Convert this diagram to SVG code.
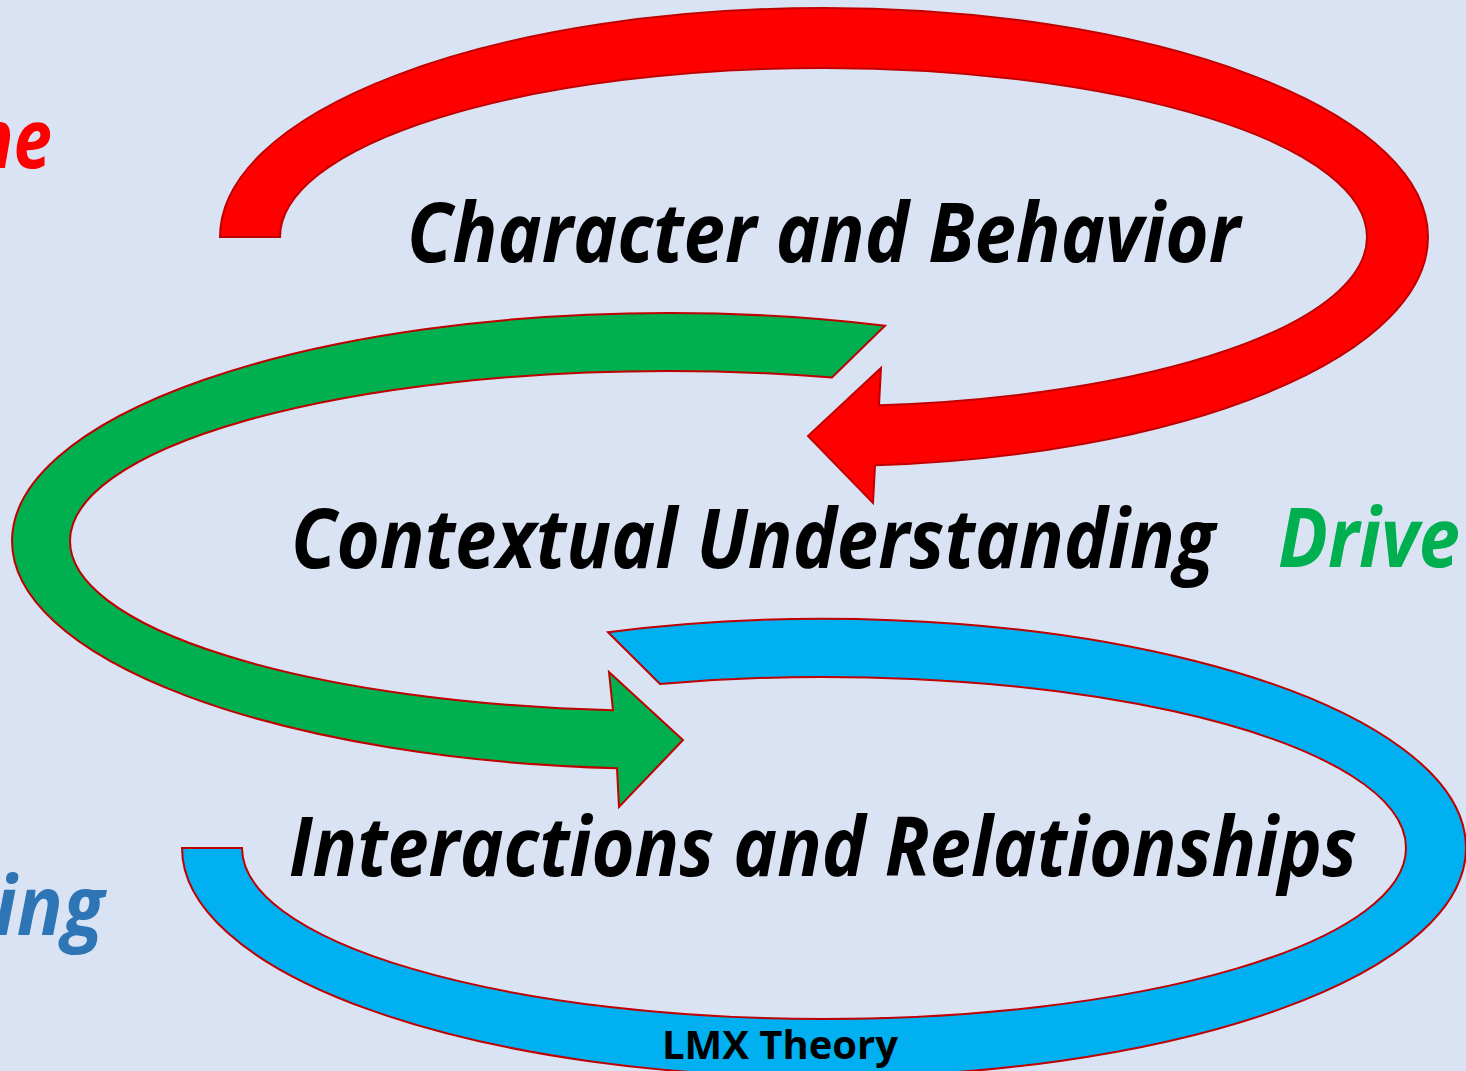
<svg xmlns="http://www.w3.org/2000/svg" width="1466" height="1071" viewBox="0 0 1466 1071">
  <style>
    .band { stroke: #C00000; stroke-width: 2; stroke-linejoin: miter; }
    .main { font-family: "Open Sans", "Noto Sans", sans-serif; font-weight: bold; font-style: italic; font-size: 82px; fill: #000000; }
    .side { font-family: "Open Sans", "Noto Sans", sans-serif; font-weight: bold; font-style: italic; font-size: 82px; }
    .lmx { font-family: "Open Sans", "Noto Sans", sans-serif; font-weight: bold; font-size: 39px; fill: #000000; }
  </style>
  <rect x="0" y="0" width="1466" height="1071" fill="#DAE3F3"/>

  <g id="connectors">
    <path id="arrow-red" class="band" fill="#FF0000"
      d="M 220 237 A 604 229 0 0 1 824 8 A 604 229 0 0 1 1428 237 A 604 229 0 0 1 875 465.2 L 873 503 L 808 436 L 881 368 L 879 405.3 A 544 169 0 0 0 1367 237 A 544 169 0 0 0 824 68 A 544 169 0 0 0 280 237 Z"/>
    <path id="arrow-green" class="band" fill="#00B050"
      d="M 885 325.7 A 656 228 0 0 0 668 313 A 656 228 0 0 0 12 541 A 656 228 0 0 0 617 768.3 L 619 807 L 683 740 L 609 672 L 613 710.3 A 598 170 0 0 1 70 541 A 598 170 0 0 1 668 371 A 598 170 0 0 1 832 377.5 Z"/>
    <path id="arrow-blue" class="band" fill="#00B0F0"
      d="M 608 632.2 A 642 229 0 0 1 1466 848 A 642 229 0 0 1 824 1077 A 642 229 0 0 1 182 848 L 242 848 A 582 171 0 0 0 824 1019 A 582 171 0 0 0 1406 848 A 582 171 0 0 0 660 683.9 Z"/>
  </g>

  <g id="node-character">
    <text class="main" x="407" y="262" textLength="833" lengthAdjust="spacingAndGlyphs">Character and Behavior</text>
  </g>
  <g id="node-contextual">
    <text class="main" x="291" y="568" textLength="924" lengthAdjust="spacingAndGlyphs">Contextual Understanding</text>
  </g>
  <g id="node-interactions">
    <text class="main" x="289" y="876" textLength="1068" lengthAdjust="spacingAndGlyphs">Interactions and Relationships</text>
  </g>

  <g id="side-labels">
    <text class="side" x="52" y="168" text-anchor="end" fill="#FF0000" textLength="80" lengthAdjust="spacingAndGlyphs">ne</text>
    <text class="side" x="1278" y="567" fill="#00B050" textLength="182" lengthAdjust="spacingAndGlyphs">Drive</text>
    <text class="side" x="104" y="935" text-anchor="end" fill="#2E75B6" textLength="110" lengthAdjust="spacingAndGlyphs">ing</text>
  </g>

  <g id="label-lmx">
    <text class="lmx" x="662" y="1059" textLength="236" lengthAdjust="spacingAndGlyphs">LMX Theory</text>
  </g>
</svg>
